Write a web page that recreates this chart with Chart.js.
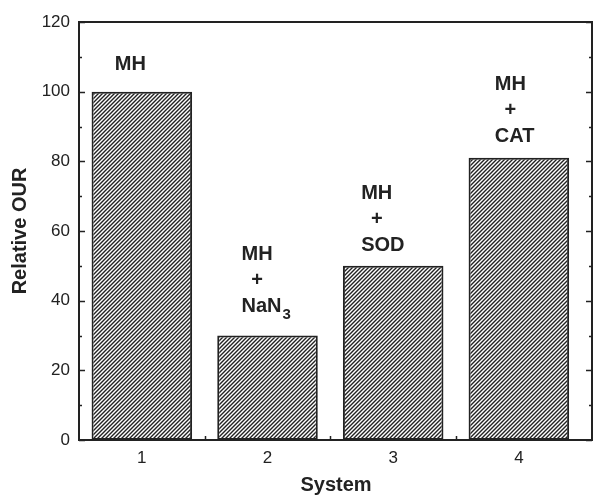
<!DOCTYPE html>
<html>
<head>
<meta charset="utf-8">
<script src="https://cdn.jsdelivr.net/npm/chart.js@4.4.0/dist/chart.umd.min.js"></script>
<style>
  html, body { margin: 0; padding: 0; background: #fff; }
  #wrap { width: 594px; height: 496px; }
</style>
</head>
<body>
<div id="wrap"><canvas id="chart"></canvas></div>
<script>
// Data
const systems = [1, 2, 3, 4];
const relativeOUR = [100, 30, 50, 81];
const yTickValues = [0, 20, 40, 60, 80, 100, 120];
const barLabels = [
  ["MH"],
  ["MH", "+", { text: "NaN", sub: "3" }],
  ["MH", "+", "SOD"],
  ["MH", "+", "CAT"]
];

// Label placement (style only): left edge offset from bar centre, gap above bar top
const labelLeft = [-27, -26, -32, -24];
const labelGap = [27, 29, 20, 21];

const ink = "#222";
const font = "'Liberation Sans', Arial, Helvetica, sans-serif";

// Hatch pattern "////"
function makeHatch() {
  const c = document.createElement("canvas");
  c.width = 4; c.height = 4;
  const g = c.getContext("2d");
  g.fillStyle = "#fff";
  g.fillRect(0, 0, 4, 4);
  g.strokeStyle = "#222";
  g.lineWidth = 1.4;
  g.beginPath();
  g.moveTo(0, 4); g.lineTo(4, 0);
  g.moveTo(-1, 1); g.lineTo(1, -1);
  g.moveTo(3, 5); g.lineTo(5, 3);
  g.stroke();
  return g.createPattern(c, "repeat");
}

// Frame and inward ticks
const framePlugin = {
  id: "frame",
  afterDraw(chart) {
    const { ctx, chartArea: a, scales } = chart;
    const y = scales.y, x = scales.x;
    ctx.save();
    ctx.strokeStyle = ink;
    ctx.lineWidth = 2;
    ctx.strokeRect(a.left, a.top, a.right - a.left - 1, a.bottom - a.top);
    ctx.lineWidth = 1.5;
    ctx.beginPath();
    for (let v = 0; v <= 120; v += 10) {
      const py = Math.round(y.getPixelForValue(v)) + 0.5;
      const len = v % 20 === 0 ? 6 : 3;
      ctx.moveTo(a.left, py); ctx.lineTo(a.left + len, py);
      ctx.moveTo(a.right - 1, py); ctx.lineTo(a.right - 1 - len, py);
    }
    [1.5, 2.5, 3.5].forEach(v => {
      const px = Math.round(x.getPixelForValue(v)) + 0.5;
      ctx.moveTo(px, a.bottom); ctx.lineTo(px, a.bottom - 4);
    });
    ctx.stroke();
    ctx.restore();
  }
};

// Text above bars
const labelPlugin = {
  id: "barText",
  afterDatasetsDraw(chart) {
    const { ctx } = chart;
    const bars = chart.getDatasetMeta(0).data;
    ctx.save();
    ctx.fillStyle = ink;
    ctx.textBaseline = "middle";
    bars.forEach((bar, i) => {
      const lines = barLabels[i];
      const left = bar.x + labelLeft[i];
      const bottomY = bar.y - labelGap[i];
      ctx.font = "bold 20px " + font;
      const firstW = ctx.measureText(lines[0]).width;
      lines.forEach((ln, j) => {
        const cy = bottomY - (lines.length - 1 - j) * 26;
        ctx.font = "bold 20px " + font;
        if (ln === "+") {
          ctx.textAlign = "center";
          ctx.fillText(ln, left + firstW / 2, cy);
        } else if (typeof ln === "object") {
          ctx.textAlign = "left";
          ctx.fillText(ln.text, left, cy);
          const w = ctx.measureText(ln.text).width;
          ctx.font = "bold 15px " + font;
          ctx.fillText(ln.sub, left + w + 1, cy + 8);
        } else {
          ctx.textAlign = "left";
          ctx.fillText(ln, left, cy);
        }
      });
    });
    ctx.restore();
  }
};

new Chart(document.getElementById("chart"), {
  type: "bar",
  data: {
    datasets: [{
      data: systems.map((s, i) => ({ x: s, y: relativeOUR[i] })),
      backgroundColor: makeHatch(),
      borderColor: ink,
      borderWidth: 2,
      borderSkipped: false,
      barPercentage: 0.8,
      categoryPercentage: 1
    }]
  },
  options: {
    responsive: true,
    maintainAspectRatio: false,
    animation: false,
    events: [],
    layout: { padding: { left: 0, right: 1, top: 22, bottom: 0 } },
    plugins: { legend: { display: false }, tooltip: { enabled: false } },
    scales: {
      x: {
        type: "linear",
        offset: false,
        min: 0.5,
        max: 4.59,
        afterBuildTicks(scale) { scale.ticks = systems.map(v => ({ value: v })); },
        afterFit(scale) { scale.height = 56; },
        grid: { display: false, drawTicks: false },
        border: { display: false },
        ticks: { color: ink, font: { family: font, size: 17 }, padding: 8 },
        title: {
          display: true, text: "System", color: ink,
          font: { family: font, size: 20, weight: "bold" },
          padding: { top: 0, bottom: -1 }
        }
      },
      y: {
        min: 0,
        max: 120,
        afterBuildTicks(scale) { scale.ticks = yTickValues.map(v => ({ value: v })); },
        afterFit(scale) { scale.width = 79; },
        grid: { display: false, drawTicks: false },
        border: { display: false },
        ticks: { color: ink, font: { family: font, size: 17 }, padding: 9 },
        title: {
          display: true, text: "Relative OUR", color: ink,
          font: { family: font, size: 20, weight: "bold" },
          padding: { top: 8, bottom: 0 }
        }
      }
    }
  },
  plugins: [framePlugin, labelPlugin]
});
</script>
</body>
</html>
